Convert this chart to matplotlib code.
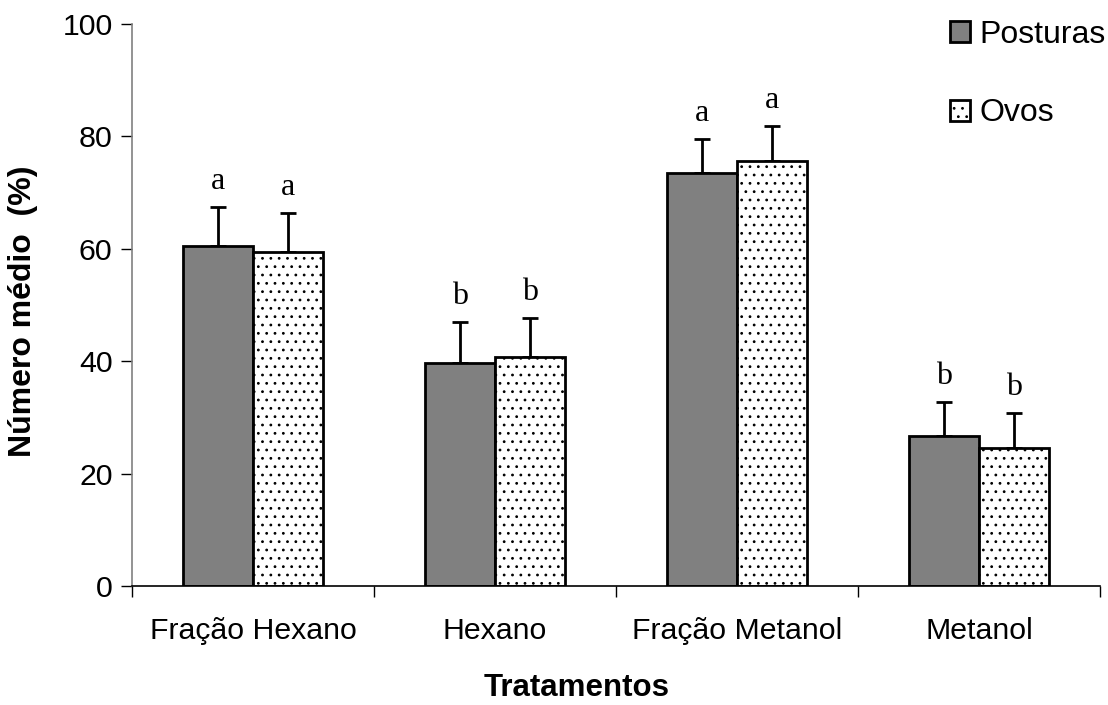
import numpy as np
import matplotlib
matplotlib.use("Agg")
import matplotlib.pyplot as plt
from matplotlib.patches import Patch

# --- data ---
tratamentos = ["Fração Hexano", "Hexano", "Fração Metanol", "Metanol"]
posturas = [60.5, 39.7, 73.4, 26.7]
posturas_err = [7.0, 7.2, 6.1, 6.1]
ovos = [59.4, 40.7, 75.7, 24.5]
ovos_err = [7.0, 7.0, 6.2, 6.2]
letras_posturas = ["a", "b", "a", "b"]
letras_ovos = ["a", "b", "a", "b"]
yticks = [0, 20, 40, 60, 80, 100]

plt.rcParams["font.family"] = ["Liberation Sans", "DejaVu Sans"]
plt.rcParams["hatch.linewidth"] = 0.8
plt.rcParams["hatch.color"] = "#555555"

fig = plt.figure(figsize=(11.08, 7.05), dpi=100)
ax = fig.add_axes([0.1191, 0.1688, 0.8737, 0.7972])

x = np.arange(len(tratamentos))
w = 0.289
err_kw = dict(ecolor="black", elinewidth=2, capsize=6, capthick=2)

ax.bar(x - w / 2, posturas, w, color="#808080", edgecolor="black",
       linewidth=2, zorder=2)
ax.bar(x + w / 2, ovos, w, color="white", edgecolor="black",
       linewidth=2, hatch="..", zorder=2)
# upper error bars only
ax.errorbar(x - w / 2, posturas, yerr=[np.zeros(4), posturas_err],
            fmt="none", zorder=1, **err_kw)
ax.errorbar(x + w / 2, ovos, yerr=[np.zeros(4), ovos_err],
            fmt="none", zorder=1, **err_kw)

for i in range(len(x)):
    ax.annotate(letras_posturas[i], (x[i] - w / 2, posturas[i] + posturas_err[i]),
                xytext=(0, 13), textcoords="offset points", ha="center",
                va="baseline", fontsize=23, family="Liberation Serif")
    ax.annotate(letras_ovos[i], (x[i] + w / 2, ovos[i] + ovos_err[i]),
                xytext=(0, 13), textcoords="offset points", ha="center",
                va="baseline", fontsize=23, family="Liberation Serif")

ax.set_xlim(-0.5, len(x) - 0.5)
ax.set_ylim(0, 100)
ax.set_yticks(yticks)
ax.set_xticks(x)
ax.set_xticklabels(tratamentos)
ax.set_xticks(np.arange(-0.5, len(x)), minor=True)
ax.tick_params(axis="x", which="major", length=0, pad=22, labelsize=21.8)
ax.tick_params(axis="x", which="minor", length=8, width=1, direction="out")
ax.tick_params(axis="y", length=8, width=1, direction="out", pad=6, labelsize=21.8)

for s in ["top", "right"]:
    ax.spines[s].set_visible(False)
ax.spines["left"].set_color("#808080")
ax.spines["left"].set_linewidth(1.2)
ax.spines["bottom"].set_linewidth(1.2)

ax.set_ylabel("Número médio  (%)", fontsize=23, fontweight="bold", va="center")
ax.yaxis.set_label_coords(-0.1126, 0.489)
ax.set_xlabel("Tratamentos", fontsize=22.5, fontweight="bold", va="center")
ax.xaxis.set_label_coords(0.459, -0.182)

handles = [Patch(facecolor="#808080", edgecolor="black", linewidth=2, label="Posturas"),
           Patch(facecolor="white", edgecolor="black", linewidth=2, hatch="..", label="Ovos")]
ax.legend(handles=handles, loc="upper left", bbox_to_anchor=(0.846, 0.99),
          bbox_transform=fig.transFigure, frameon=False, fontsize=23,
          handlelength=0.63, handleheight=0.63, handletextpad=0.28,
          labelspacing=1.52, borderaxespad=0)

fig.savefig("out.png", dpi=100)
